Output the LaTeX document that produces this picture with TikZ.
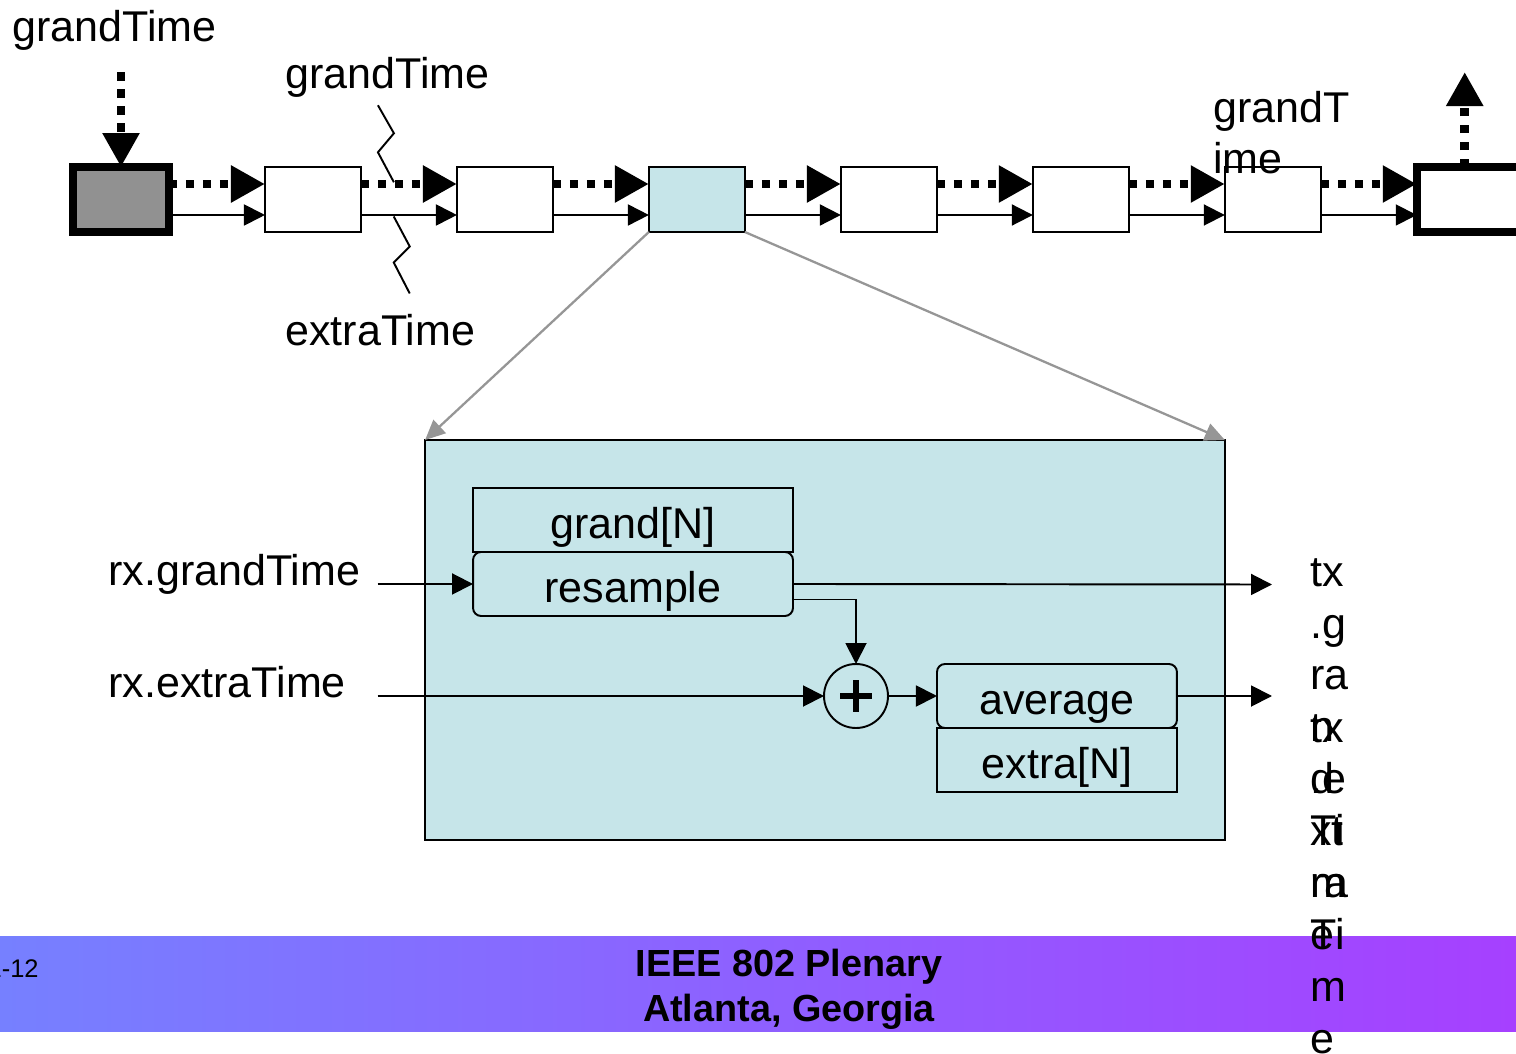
\documentclass[tikz,border=0pt]{standalone}
\usepackage{fontspec}
\setmainfont{Liberation Sans}
\usetikzlibrary{arrows.meta,positioning}

\definecolor{panelblue}{RGB}{198,229,233}
\definecolor{boxgray}{RGB}{145,145,145}
\definecolor{linkgray}{RGB}{150,150,150}
\definecolor{barleft}{RGB}{118,128,255}
\definecolor{barright}{RGB}{166,64,255}

\begin{document}
\begin{tikzpicture}[x=0.02cm,y=-0.02cm,>={Triangle[length=0.42cm,width=0.42cm]}]
        \tikzset{block/.style={draw, rectangle, line width=1.1pt, outer sep=0pt, minimum width=1.92cm, minimum height=1.3cm},
        tblock/.style={block, line width=4.5pt},
        rblock/.style={draw, rectangle, rounded corners=0.16cm, line width=1.1pt, outer sep=0pt, fill=panelblue, minimum height=1.28cm, inner sep=0pt, text height=0.86cm, text depth=0.12cm, font=\fontsize{24.5}{29.5}\selectfont},
        sblock/.style={rblock, sharp corners},
        sum/.style={draw, circle, line width=1.1pt, outer sep=0pt, minimum size=1.28cm,
            path picture={\draw[line width=1.1mm] (path picture bounding box.center) +(-0.32cm,0) -- +(0.32cm,0) +(0,-0.32cm) -- +(0,0.32cm);}},
        lbl/.style={inner sep=0pt, align=left, font=\fontsize{24.5}{29.5}\selectfont},
        dots/.style={line width=0.17cm, dash pattern=on 0.17cm off 0.17cm, -{Triangle[length=0.68cm,width=0.7cm]}},
        flow/.style={line width=1.1pt, ->},
        zoomln/.style={draw=linkgray, line width=1.3pt, -{Triangle[length=0.4cm,width=0.36cm]}},
        zigzag/.style={line width=1.1pt}
        }
        \useasboundingbox (0,0) rectangle (1516,1054);

%%% footer
        \shade[left color=barleft, right color=barright] (0,936) rectangle (1516,1031);
        \node[anchor=base east, inner sep=0pt, font=\fontsize{14.5}{16}\selectfont] (docno) at (39,977) {1-12};
        \node[align=center, inner sep=0pt, font=\fontsize{21.5}{25.6}\selectfont\bfseries] (venue) at (789,989) {IEEE 802 Plenary\\Atlanta, Georgia};

%%% chain of stations
        \node [tblock, fill=boxgray] (b0) at (121,199.5) {};
        \node [block, right=1.92cm of b0] (b1) {};
        \node [block, right=1.92cm of b1] (b2) {};
        \node [block, fill=panelblue, right=1.92cm of b2] (b3) {};
        \node [block, right=1.92cm of b3] (b4) {};
        \node [block, right=1.92cm of b4] (b5) {};
        \node [block, right=1.92cm of b5] (b6) {};
        \node [tblock, minimum width=2.4cm, right=1.92cm of b6] (b7) {};

        \node [lbl, anchor=base west] (gtop) at (12,42) {grandTime};
        \node [lbl, anchor=base west] (gmid) at (285,89) {grandTime};
        \node [lbl, anchor=base west] (emid) at (285,346) {extraTime};
        \node [lbl, anchor=base west] (gend) at (1213,174) {grandT\\ime};

        \coordinate [above=1.9cm of b0] (gin);
        \coordinate (gout) at ([shift={(0.96cm,1.9cm)}]b7.north west);

%%% paths
        \path[dots] (gin) edge (b0.north)
                    ([yshift=0.31cm]b0.east) edge ([yshift=0.31cm]b1.west)
                    ([yshift=0.31cm]b1.east) edge ([yshift=0.31cm]b2.west)
                    ([yshift=0.31cm]b2.east) edge ([yshift=0.31cm]b3.west)
                    ([yshift=0.31cm]b3.east) edge ([yshift=0.31cm]b4.west)
                    ([yshift=0.31cm]b4.east) edge ([yshift=0.31cm]b5.west)
                    ([yshift=0.31cm]b5.east) edge ([yshift=0.31cm]b6.west)
                    ([yshift=0.31cm]b6.east) edge ([yshift=0.31cm]b7.west)
                    (gout |- b7.north) edge (gout)
                    ;
        \path[flow] ([yshift=-0.31cm]b0.east) edge ([yshift=-0.31cm]b1.west)
                    ([yshift=-0.31cm]b1.east) edge ([yshift=-0.31cm]b2.west)
                    ([yshift=-0.31cm]b2.east) edge ([yshift=-0.31cm]b3.west)
                    ([yshift=-0.31cm]b3.east) edge ([yshift=-0.31cm]b4.west)
                    ([yshift=-0.31cm]b4.east) edge ([yshift=-0.31cm]b5.west)
                    ([yshift=-0.31cm]b5.east) edge ([yshift=-0.31cm]b6.west)
                    ([yshift=-0.31cm]b6.east) edge ([yshift=-0.31cm]b7.west)
                    ;
        \draw[zigzag] ([xshift=-0.19cm,yshift=-0.14cm]gmid.south) -- ++(16,28) -- ++(-16,19) -- ++(16,30);
        \draw[zigzag] ([xshift=0.59cm,yshift=0.42cm]emid.north) -- ++(-16,-31) -- ++(16,-16) -- ++(-16,-30);

%%% zoomed station
        \node [draw, line width=1.1pt, fill=panelblue, outer sep=0pt, minimum width=16cm, minimum height=8cm] (panel) at (825,640) {};
        \draw[zoomln] (b3.south west) -- (panel.north west);
        \draw[zoomln] (b3.south east) -- (panel.north east);

        \node [sblock, minimum width=6.4cm] (grandN) at (633,520) {grand[N]};
        \node [rblock, minimum width=6.4cm, below=0cm of grandN] (resample) {resample};
        \node [sum] (plus) at (856,696) {};
        \node [rblock, minimum width=4.8cm, right=0.98cm of plus] (average) {average};
        \node [sblock, minimum width=4.8cm, below=0cm of average] (extraN) {extra[N]};

        \node [lbl, anchor=base west] (rxg) at (108,585) {rx.grandTime};
        \node [lbl, anchor=base west] (rxe) at (108,697) {rx.extraTime};
        \coordinate (txg) at (1272,584.5);
        \coordinate (txe) at (txg |- average.east);
        % multi-line labels: base is the last line
        \node [lbl, anchor=base west] (txgl) at (1310,949) {tx\\.g\\ra\\n\\d\\Ti\\m\\e};
        \node [lbl, anchor=base west] (txel) at (1310,1053) {tx\\.e\\xt\\ra\\Ti\\m\\e};

        \draw[flow, shorten <=0.34cm] (rxg.east |- resample.west) -- (resample.west);
        \draw[flow, shorten <=0.34cm] (rxg.east |- plus.west) -- (plus.west);
        \draw[flow] (resample.east) -- (txg);
        \draw[flow] ([yshift=-0.31cm]resample.east) -| (plus.north);
        \draw[flow] (plus.east) -- (average.west);
        \draw[flow] (average.east) -- (txe);
    \end{tikzpicture}
\end{document}
